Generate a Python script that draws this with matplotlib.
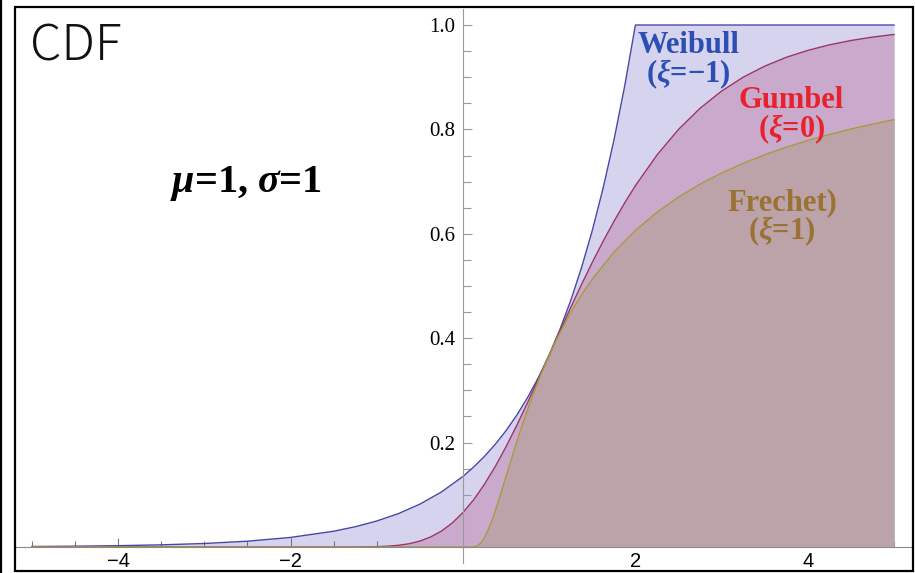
import matplotlib
matplotlib.use("Agg")
import matplotlib.pyplot as plt
import numpy as np
from matplotlib.patches import Rectangle
from matplotlib.lines import Line2D
from matplotlib.ticker import MultipleLocator, FixedLocator

## Custom mathtext so greek letters come out bold italic serif
plt.rcParams["mathtext.fontset"] = "custom"
plt.rcParams["mathtext.it"] = "Liberation Serif:italic:bold"
plt.rcParams["mathtext.rm"] = "Liberation Serif:bold"
plt.rcParams["mathtext.bf"] = "Liberation Serif:bold"

## CDF values (mu=1, sigma=1)
weibull_x = [-5, -4.5, -4, -3.5, -3, -2.5, -2, -1.5, -1.25, -1, -0.75, -0.5, -0.25, 0,
             0.125, 0.25, 0.375, 0.5, 0.625, 0.75, 0.875, 1,
             1.125, 1.25, 1.375, 1.5, 1.625, 1.75, 1.875, 2, 3, 4, 5]
weibull_y = [0.0009, 0.0015, 0.0025, 0.0041, 0.0067, 0.0111, 0.0183, 0.0302, 0.0388, 0.0498,
             0.0639, 0.0821, 0.1054, 0.1353, 0.1534, 0.1738, 0.1969, 0.2231, 0.2528, 0.2865,
             0.3247, 0.3679, 0.4169, 0.4724, 0.5353, 0.6065, 0.6873, 0.7788, 0.8825,
             1.0, 1.0, 1.0, 1.0]

gumbel_x = [-5, -1.5, -1.25, -1, -0.875, -0.75, -0.625, -0.5, -0.375, -0.25, -0.125, 0,
            0.125, 0.25, 0.375, 0.5, 0.625, 0.75, 0.875, 1, 1.125, 1.25, 1.375, 1.5,
            1.625, 1.75, 1.875, 2, 2.25, 2.5, 2.75, 3, 3.25, 3.5, 3.75, 4, 4.25, 4.5,
            4.75, 5]
gumbel_y = [0.0, 0.0, 0.0001, 0.0006, 0.0015, 0.0032, 0.0062, 0.0113, 0.0192, 0.0305,
            0.0460, 0.0660, 0.0908, 0.1204, 0.1544, 0.1923, 0.2334, 0.2769, 0.3220, 0.3679,
            0.4137, 0.4589, 0.5029, 0.5453, 0.5855, 0.6235, 0.6591, 0.6922, 0.7509, 0.8000,
            0.8405, 0.8734, 0.9000, 0.9212, 0.9381, 0.9514, 0.9620, 0.9703, 0.9768, 0.9819]

frechet_x = [-5, 0, 0.1, 0.125, 0.15, 0.175, 0.2, 0.225, 0.25, 0.3, 0.35, 0.4, 0.45, 0.5,
             0.55, 0.6, 0.65, 0.7, 0.75, 0.8, 0.9, 1, 1.1, 1.25, 1.375, 1.5, 1.75, 2,
             2.25, 2.5, 2.75, 3, 3.25, 3.5, 3.75, 4, 4.25, 4.5, 4.75, 5]
frechet_y = [0.0, 0.0, 0.0, 0.0003, 0.0013, 0.0033, 0.0067, 0.0117, 0.0183, 0.0357, 0.0574,
             0.0821, 0.1084, 0.1353, 0.1623, 0.1889, 0.2147, 0.2397, 0.2636, 0.2865, 0.3292,
             0.3679, 0.4029, 0.4493, 0.4832, 0.5134, 0.5647, 0.6065, 0.6412, 0.6703, 0.6951,
             0.7165, 0.7351, 0.7515, 0.7659, 0.7788, 0.7903, 0.8007, 0.8101, 0.8187]

x_major = [-4, -2, 2, 4]
x_minor = [-5, -4.5, -3.5, -3, -2.5, -1.5, -1, -0.5, 0.5, 1, 1.5, 2.5, 3, 3.5, 4.5, 5]
y_major = [0.2, 0.4, 0.6, 0.8, 1.0]

fig = plt.figure(figsize=(9.15, 5.73), dpi=100)
ax = fig.add_axes([15/915, 2/573, 898/915, 564/573])
ax.set_xlim(-5.197, 5.22)
ax.set_ylim(-0.046, 1.0345)
ax.patch.set_alpha(0)

## Fills (each region is inside the previous one)
ax.fill_between(weibull_x, 0, weibull_y, color="#d5d3ee", lw=0, zorder=1)
ax.fill_between(gumbel_x, 0, gumbel_y, color="#c9aacc", lw=0, zorder=2)
ax.fill_between(frechet_x, 0, frechet_y, color="#bca3a9", lw=0, zorder=3)

ax.plot(weibull_x, weibull_y, color="#4646a6", lw=1.0, zorder=4)
ax.plot(gumbel_x, gumbel_y, color="#9c3366", lw=1.0, zorder=4)
ax.plot(frechet_x, frechet_y, color="#a89a3c", lw=1.0, zorder=4)

## Axes through the origin
for s in ["top", "right"]:
	ax.spines[s].set_visible(False)
ax.spines["left"].set_position(("data", 0))
ax.spines["bottom"].set_position(("data", 0))
ax.spines["left"].set_bounds(-0.031, 1.03)
ax.spines["left"].set_color("#9a9a9a")
ax.spines["bottom"].set_color("#8a8a8a")
ax.spines["left"].set_zorder(5)
ax.spines["bottom"].set_zorder(5)

ax.xaxis.set_major_locator(FixedLocator(x_major))
ax.xaxis.set_minor_locator(FixedLocator(x_minor))
ax.yaxis.set_major_locator(FixedLocator(y_major))
ax.yaxis.set_minor_locator(MultipleLocator(0.05))
ax.tick_params(axis="x", which="major", direction="in", length=6.5, width=0.8, color="#777777", pad=3.5)
ax.tick_params(axis="x", which="minor", direction="in", length=4, width=0.8, color="#777777")
ax.tick_params(axis="y", which="major", direction="in", length=6.5, width=0.8, color="#999999", pad=5.5)
ax.tick_params(axis="y", which="minor", direction="in", length=5.5, width=0.8, color="#999999")
ax.set_xticklabels(["\u22124", "\u22122", "2", "4"], fontsize=14.5, family="Liberation Sans")
ax.set_yticklabels(["0.2", "0.4", "0.6", "0.8", "1.0"], fontsize=15, family="Liberation Serif")

## Labels (two lines each)
lab = dict(ha="center", va="center", fontsize=22, family="Liberation Serif", weight="bold",
	linespacing=0.88, zorder=6)
ax.text(2.62, 0.931, "Weibull\n" + r"($\xi$=$-$1)", color="#2b4fb2", **lab)
ax.text(3.81, 0.826, "Gumbel\n" + r"($\xi$=0)", color="#e8222c", **lab)
ax.text(3.70, 0.630, "Frechet)\n" + r"($\xi$=1)", color="#9a7233", **lab)
ax.text(-2.52, 0.697, r"$\mu$=1, $\sigma$=1", ha="center", va="center", fontsize=29,
	family="Liberation Serif", weight="bold", color="black")

fig.text(30/915, 1 - 47/573, "CDF", ha="left", va="center", fontsize=36,
	family=["Noto Sans CJK JP", "DejaVu Sans"], weight="light", color="#111111")

## Frame round the picture
fig.patches.append(Rectangle((15/915, 2/573), 898/915, 564/573, transform=fig.transFigure,
	fill=False, edgecolor="black", lw=1.6))
fig.lines.append(Line2D([1/915, 1/915], [0, 1], transform=fig.transFigure, color="black", lw=1.6))

plt.savefig("out.png", dpi=100)
plt.close()
